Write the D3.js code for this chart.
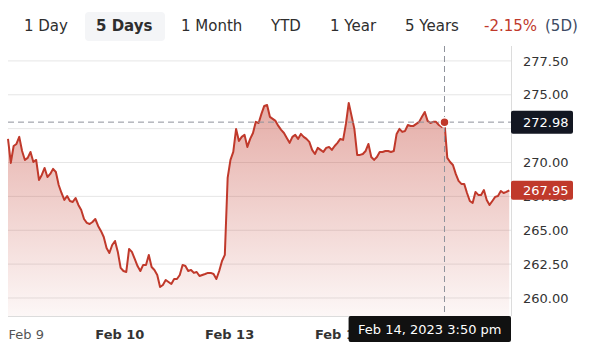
<!DOCTYPE html>
<html><head><meta charset="utf-8">
<script src="https://cdn.jsdelivr.net/npm/d3@7"></script>
<style>
body{margin:0;background:#fff;}
svg{display:block;font-family:"DejaVu Sans",sans-serif;}
</style>
</head><body>
<svg id="chart" width="599" height="356"></svg>
<script>
// ---- data ----
const tabs = ["1 Day", "5 Days", "1 Month", "YTD", "1 Year", "5 Years"];
const activeTab = "5 Days";
const changeText = "-2.15%";
const changePeriod = "(5D)";
const dayLabels = ["Feb 9", "Feb 10", "Feb 13", "Feb 14", "Feb 15"];
const pointsPerDay = 39; // 10-minute bars, 9:30 – 15:50
// prices, 10-minute intervals
const feb9 = [271.74,269.97,271.22,271.37,271.89,270.85,270.19,270.34,270.78,270.04,270.19,268.71,269.08,269.60,268.93,269.16,269.53,269.30,268.34,267.75,267.24,267.53,267.16,267.09,267.38,266.87,266.50,265.83,265.54,265.46,265.61,265.83,265.32,264.95,264.50,263.69,263.32,263.91,264.21];
const feb10 = [263.40,262.22,261.99,261.92,263.62,263.40,262.88,262.36,261.99,262.44,262.44,263.18,262.29,262.07,261.70,260.81,260.96,261.33,261.18,261.03,261.40,261.40,261.70,262.44,262.36,261.99,262.07,261.85,261.92,261.62,261.70,261.77,261.85,261.85,261.77,261.40,261.99,262.73,263.18];
const feb13 = [268.86,270.19,270.78,272.48,271.59,271.89,272.04,271.15,271.74,272.18,273.00,272.92,273.59,274.18,274.25,273.37,273.22,273.07,272.70,272.41,272.18,271.81,271.45,271.89,272.04,271.74,272.11,271.89,271.74,271.52,270.93,270.63,271.08,270.93,270.78,271.08,271.15,270.93,271.22];
const feb14 = [271.45,271.74,271.67,272.85,274.40,273.44,272.48,270.56,270.56,270.63,270.85,271.37,270.41,270.19,270.41,270.78,270.78,270.85,270.85,270.78,270.85,272.11,272.48,272.26,272.33,272.77,272.70,272.70,272.85,273.00,273.37,273.73,273.07,272.92,273.00,273.00,272.77,272.63,272.98];
const feb15 = [270.34,270.04,269.82,269.16,268.64,268.42,268.42,267.75,267.16,267.01,267.83,267.61,267.61,267.97,267.24,266.87,267.16,267.46,267.53,267.90,267.75,267.83,267.95];
const dailySeries = [feb9, feb10, feb13, feb14, feb15];
const yTicks = [260, 262.5, 265, 267.5, 270, 272.5, 275, 277.5];
const yDomain = [258.67, 278.6];
const xDomain = [0, 4.58]; // in trading days from Feb 9 open
const hoverDay = 3, hoverIndex = 38;
const hoverLabel = "Feb 14, 2023 3:50 pm";
const hoverValue = 272.98;
const lastValue = 267.95;

// ---- layout ----
const red = "#c0392b";
const plot = {left: 8, right: 511, top: 46, bottom: 316};
const svg = d3.select("#chart");

const x = d3.scaleLinear().domain(xDomain).range([plot.left, plot.right]);
const y = d3.scaleLinear().domain(yDomain).range([plot.bottom, plot.top]);

const points = [];
dailySeries.forEach((arr, d) => arr.forEach((v, i) => points.push({t: d + i / pointsPerDay, v})));

// ---- tab bar ----
const tabX = [24, 96, 181, 271, 330, 405];
svg.append("rect").attr("x", 85).attr("y", 12).attr("width", 80).attr("height", 29)
  .attr("rx", 4).attr("fill", "#f4f5f7");
svg.selectAll("text.tab").data(tabs).join("text")
  .attr("class", "tab")
  .attr("x", (d, i) => tabX[i]).attr("y", 31)
  .attr("font-size", 15)
  .attr("font-weight", d => d === activeTab ? "bold" : "normal")
  .attr("fill", "#2e2e2e")
  .text(d => d);
svg.append("text").attr("x", 484).attr("y", 31).attr("font-size", 15).attr("fill", red).text(changeText);
svg.append("text").attr("x", 545).attr("y", 31).attr("font-size", 15).attr("fill", "#3d4a63").text(changePeriod);

// ---- gradient ----
const defs = svg.append("defs");
const grad = defs.append("linearGradient").attr("id", "fillGrad")
  .attr("gradientUnits", "userSpaceOnUse")
  .attr("x1", 0).attr("x2", 0).attr("y1", y(274.5)).attr("y2", plot.bottom);
grad.append("stop").attr("offset", 0).attr("stop-color", red).attr("stop-opacity", 0.42);
grad.append("stop").attr("offset", 1).attr("stop-color", red).attr("stop-opacity", 0.04);

// ---- grid ----
svg.append("g").selectAll("line").data(yTicks).join("line")
  .attr("x1", plot.left).attr("x2", plot.right)
  .attr("y1", d => y(d)).attr("y2", d => y(d))
  .attr("stroke", "#e6e6e6").attr("stroke-width", 1);

// ---- area + line ----
svg.append("path").datum(points)
  .attr("fill", "url(#fillGrad)")
  .attr("d", d3.area().x(d => x(d.t)).y0(plot.bottom).y1(d => y(d.v)));
svg.append("path").datum(points)
  .attr("fill", "none").attr("stroke", red).attr("stroke-width", 2)
  .attr("stroke-linejoin", "round")
  .attr("d", d3.line().x(d => x(d.t)).y(d => y(d.v)));

// frame lines
svg.append("line").attr("x1", plot.right + 0.5).attr("x2", plot.right + 0.5)
  .attr("y1", plot.top).attr("y2", plot.bottom).attr("stroke", "#dcdcdc");
svg.append("line").attr("x1", plot.left).attr("x2", plot.right)
  .attr("y1", plot.bottom + 0.5).attr("y2", plot.bottom + 0.5).attr("stroke", "#dcdcdc");

// ---- y axis labels ----
const yAxis = d3.axisRight(y).tickValues(yTicks).tickFormat(d3.format(".2f")).tickSize(0).tickPadding(12);
const gy = svg.append("g").attr("transform", `translate(${plot.right},0)`).call(yAxis);
gy.select(".domain").remove();
gy.selectAll("text").attr("font-size", 13).attr("fill", "#333").attr("font-family", "DejaVu Sans, sans-serif");

// ---- x axis labels ----
const xAxis = d3.axisBottom(x).tickValues(d3.range(dayLabels.length)).tickFormat((d, i) => dayLabels[i]).tickSize(0).tickPadding(14);
const gx = svg.append("g").attr("transform", `translate(0,${plot.bottom})`).call(xAxis);
gx.select(".domain").remove();
gx.selectAll("text").attr("font-size", 13).attr("font-family", "DejaVu Sans, sans-serif")
  .attr("font-weight", (d, i) => i === 0 ? "normal" : "bold")
  .attr("fill", (d, i) => i === 0 ? "#555" : "#333")
  .attr("text-anchor", (d, i) => i === 0 ? "start" : "middle")
  .attr("dx", (d, i) => i === 0 ? 0 : 1.5);

// ---- crosshair ----
const hx = x(hoverDay + hoverIndex / pointsPerDay);
const hy = y(hoverValue);
svg.append("line").attr("x1", hx).attr("x2", hx).attr("y1", plot.top).attr("y2", plot.bottom)
  .attr("stroke", "#8e929b").attr("stroke-dasharray", "6,4");
svg.append("line").attr("x1", plot.left).attr("x2", plot.right).attr("y1", hy).attr("y2", hy)
  .attr("stroke", "#8e929b").attr("stroke-dasharray", "6,4");
svg.append("circle").attr("cx", hx).attr("cy", hy).attr("r", 4.5)
  .attr("fill", red).attr("stroke", "#fff").attr("stroke-width", 1.5);

// ---- price tags ----
function tag(value, fill, h) {
  const cy = y(value);
  svg.append("rect").attr("x", plot.right).attr("y", cy - h / 2).attr("width", 62).attr("height", h)
    .attr("rx", 2).attr("fill", fill);
  svg.append("text").attr("x", plot.right + 12).attr("y", cy).attr("dy", "0.35em")
    .attr("font-size", 13).attr("fill", "#fff").text(d3.format(".2f")(value));
}
tag(lastValue, red, 19);
tag(hoverValue, "#131722", 23);

// ---- hover date tooltip ----
const tt = svg.append("g");
const ttText = tt.append("text").attr("font-size", 13).attr("fill", "#fff").text(hoverLabel);
const tw = ttText.node().getComputedTextLength();
const bw = tw + 19;
tt.insert("rect", "text").attr("x", plot.right - bw).attr("y", plot.bottom).attr("width", bw).attr("height", 26)
  .attr("rx", 2).attr("fill", "#111");
ttText.attr("x", plot.right - bw / 2).attr("y", plot.bottom + 13).attr("dy", "0.35em").attr("text-anchor", "middle");
</script>
</body></html>
